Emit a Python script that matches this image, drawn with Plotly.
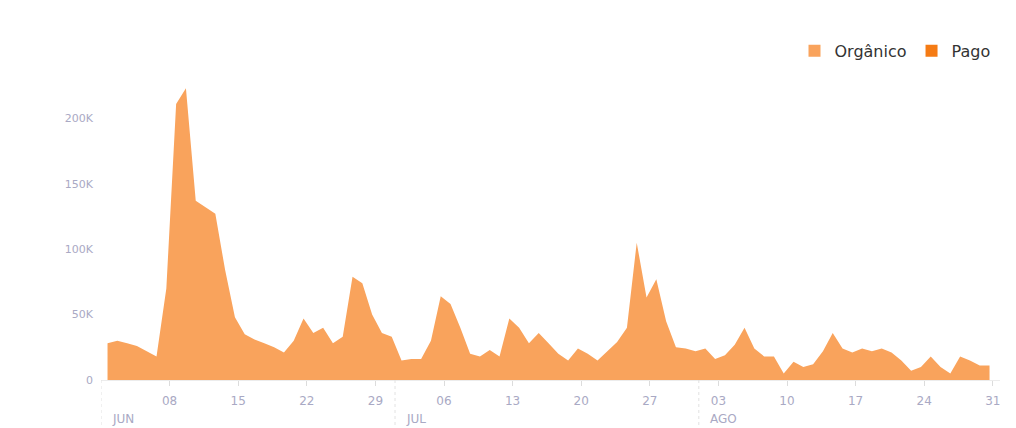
import pandas as pd
import plotly.graph_objects as go

start_date = "2024-06-02"
end_date = "2024-08-31"

# Orgânico daily reach (thousands), Jun 2 .. Aug 31
organico_k = [
    28, 30, 28, 26, 22, 18,            # Jun 2-7
    70, 211, 223, 137, 132, 127, 84,   # Jun 8-14
    48, 35, 31, 28, 25, 21, 30,        # Jun 15-21
    47, 36, 40, 28, 33, 79, 74,        # Jun 22-28
    50, 36,                            # Jun 29-30
    33, 15, 16, 16, 30, 64, 58,        # Jul 1-7
    40, 20, 18, 23, 18, 47, 40,        # Jul 8-14
    28, 36, 28, 20, 15, 24, 20,        # Jul 15-21
    15, 22, 29, 40, 105, 63, 77,       # Jul 22-28
    45, 25, 24,                        # Jul 29-31
    22, 24, 16, 19, 27, 40, 24,        # Aug 1-7
    18, 18, 5, 14, 10, 12, 22,         # Aug 8-14
    36, 24, 21, 24, 22, 24, 21,        # Aug 15-21
    15, 7, 10, 18, 10, 5, 18,          # Aug 22-28
    15, 11, 11,                        # Aug 29-31
]

# Pago daily reach (thousands) - not visible in the chart
pago_k = [
    0, 0, 0, 0, 0, 0,
    0, 0, 0, 0, 0, 0, 0,
    0, 0, 0, 0, 0, 0, 0,
    0, 0, 0, 0, 0, 0, 0,
    0, 0,
    0, 0, 0, 0, 0, 0, 0,
    0, 0, 0, 0, 0, 0, 0,
    0, 0, 0, 0, 0, 0, 0,
    0, 0, 0, 0, 0, 0, 0,
    0, 0, 0,
    0, 0, 0, 0, 0, 0, 0,
    0, 0, 0, 0, 0, 0, 0,
    0, 0, 0, 0, 0, 0, 0,
    0, 0, 0, 0, 0, 0, 0,
    0, 0, 0,
]

y_tickvals = [0, 50000, 100000, 150000, 200000]
y_ticktext = ["0", "50K", "100K", "150K", "200K"]
month_starts = ["2024-06-01", "2024-07-01", "2024-08-01"]
month_labels = ["JUN", "JUL", "AGO"]
series_names = ["Orgânico", "Pago"]

dates = pd.date_range(start_date, end_date, freq="D")
organico = [v * 1000 for v in organico_k]
pago = [v * 1000 for v in pago_k]

c_org = "#F9A35C"
c_pago = "#F57B14"
tick_color = "#A9A9C4"
font_fam = "DejaVu Sans, Verdana, sans-serif"

fig = go.Figure()
fig.add_trace(go.Scatter(
    x=dates, y=pago, name=series_names[1], mode="none",
    stackgroup="a", fillcolor=c_pago, showlegend=False, hoverinfo="skip",
))
fig.add_trace(go.Scatter(
    x=dates, y=organico, name=series_names[0], mode="none",
    stackgroup="a", fillcolor=c_org, showlegend=False, hoverinfo="skip",
))
# legend entries
for name, col in zip(series_names, [c_org, c_pago]):
    fig.add_trace(go.Scatter(
        x=[None], y=[None], name=name, mode="markers",
        marker=dict(symbol="square", size=15, color=col),
        showlegend=True,
    ))

px_per_day = 9.8
ml, mr = 101, 16
plot_w = 1016 - ml - mr
x0 = pd.Timestamp("2024-06-01 08:00")
x1 = x0 + pd.Timedelta(days=plot_w / px_per_day)
shift = pd.Timedelta(hours=8)

tick_vals = pd.date_range(pd.Timestamp("2024-06-08"), pd.Timestamp("2024-08-31"), freq="7D")

fig.update_layout(
    width=1016, height=428,
    margin=dict(l=ml, r=mr, t=66, b=48),
    paper_bgcolor="white", plot_bgcolor="white",
    font=dict(family=font_fam, color="#333333"),
    showlegend=True,
    legend=dict(
        orientation="h", x=0.995, xanchor="right", y=1.048, yanchor="middle",
        font=dict(size=16, color="#333333", family=font_fam), itemsizing="constant",
        traceorder="normal", bgcolor="rgba(0,0,0,0)",
    ),
    xaxis=dict(
        range=[x0, x1],
        tickvals=[t + shift for t in tick_vals],
        ticktext=[t.strftime("%d") for t in tick_vals],
        showgrid=False, zeroline=False,
        showline=True, linecolor="#ECECEC", linewidth=1,
        ticks="outside", ticklen=5, tickcolor="#DCDCDC",
        tickfont=dict(size=12, color=tick_color),
        ticklabelstandoff=5,
    ),
    yaxis=dict(
        range=[0, 240000],
        tickvals=y_tickvals, ticktext=y_ticktext,
        showgrid=False, zeroline=False, showline=False,
        tickfont=dict(size=11, color=tick_color),
        ticks="", ticklabelstandoff=7,
    ),
)

for ms, lab in zip(month_starts, month_labels):
    xm = pd.Timestamp(ms) + shift
    fig.add_shape(type="line", xref="x", yref="paper", x0=xm, x1=xm, y0=0, y1=-0.15,
                  line=dict(color="#E2E2E2", width=1, dash="dot"))
    fig.add_annotation(x=xm, xref="x", y=0, yref="paper", yshift=-39,
                       text=lab, showarrow=False, xanchor="left", xshift=9,
                       yanchor="middle", font=dict(size=12, color=tick_color))

fig.write_html("out.html", config={"displayModeBar": False},
               post_script="document.body.style.margin='0px';")
